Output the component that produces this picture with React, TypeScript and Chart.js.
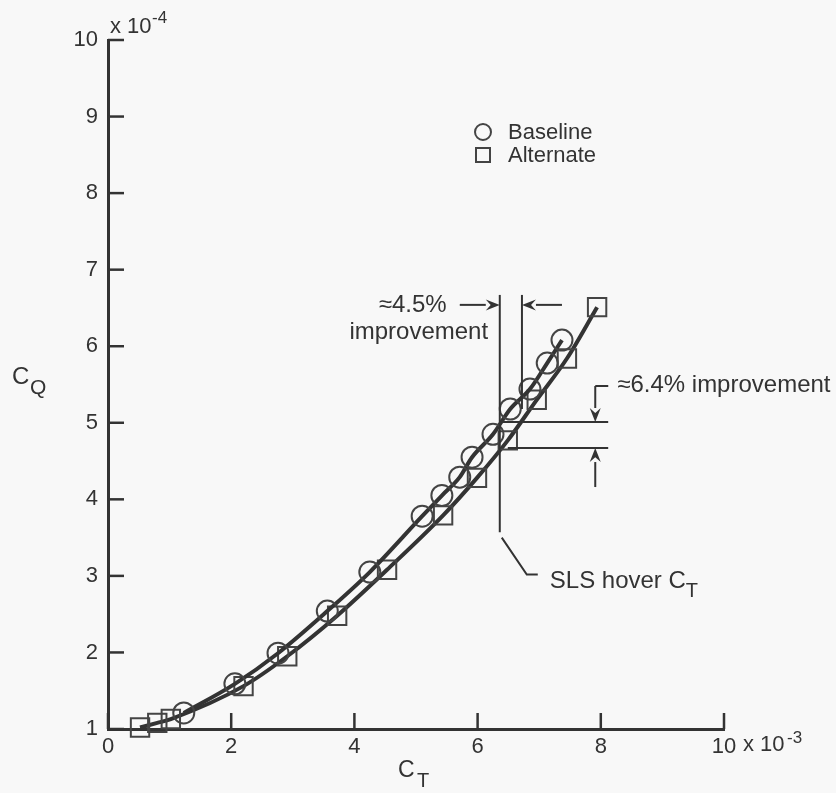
import React, { useEffect, useRef } from 'react';
import { Chart, registerables } from 'chart.js';

Chart.register(...registerables);

// ---- Data (C_T in units of 1e-3, C_Q in units of 1e-4) ----
const baselineCT = [1.23, 2.06, 2.76, 3.56, 4.25, 5.10, 5.42, 5.71, 5.91, 6.25, 6.53, 6.85, 7.13, 7.37];
const baselineCQ = [1.21, 1.59, 1.99, 2.54, 3.05, 3.78, 4.05, 4.29, 4.55, 4.85, 5.18, 5.44, 5.78, 6.08];
const alternateCT = [0.52, 0.80, 1.02, 2.20, 2.91, 3.72, 4.53, 5.44, 5.99, 6.49, 6.96, 7.45, 7.94];
const alternateCQ = [1.02, 1.08, 1.13, 1.56, 1.95, 2.48, 3.08, 3.79, 4.28, 4.77, 5.30, 5.84, 6.51];

// axis ranges / ticks
const xRange = [0, 10];
const xStep = 2;
const yRange = [1, 10];
const yStep = 1;

// annotation values (data units)
const slsHoverCT = 6.36;
const improvedCT = 6.72;
const baselineCQAtHover = 5.01;
const alternateCQAtHover = 4.67;
const annotTopCQ = 6.67;

const FONT = '"Liberation Sans", Arial, Helvetica, sans-serif';
const INK = '#333333';

function line(ctx: CanvasRenderingContext2D, x1: number, y1: number, x2: number, y2: number) {
  ctx.beginPath();
  ctx.moveTo(x1, y1);
  ctx.lineTo(x2, y2);
  ctx.stroke();
}

function arrow(ctx: CanvasRenderingContext2D, x1: number, y1: number, x2: number, y2: number) {
  const ang = Math.atan2(y2 - y1, x2 - x1);
  const L = 14, W = 5.5;
  const bx = x2 - L * Math.cos(ang), by = y2 - L * Math.sin(ang);
  line(ctx, x1, y1, bx, by);
  ctx.beginPath();
  ctx.moveTo(x2, y2);
  ctx.lineTo(bx + W * Math.sin(ang), by - W * Math.cos(ang));
  ctx.lineTo(bx + 0.35 * L * Math.cos(ang), by + 0.35 * L * Math.sin(ang));
  ctx.lineTo(bx - W * Math.sin(ang), by + W * Math.cos(ang));
  ctx.closePath();
  ctx.fill();
}

const decor = {
  id: 'decor',
  beforeDraw(chart: any) {
    const ctx = chart.ctx;
    ctx.save();
    ctx.fillStyle = '#f8f8f8';
    ctx.fillRect(0, 0, chart.width, chart.height);
    ctx.restore();
  },
  afterDraw(chart: any) {
    const ctx: CanvasRenderingContext2D = chart.ctx;
    const xs = chart.scales.x, ys = chart.scales.y;
    const px = (v: number) => xs.getPixelForValue(v);
    const py = (v: number) => ys.getPixelForValue(v);
    const area = chart.chartArea;
    ctx.save();
    ctx.strokeStyle = INK;
    ctx.fillStyle = INK;
    ctx.lineCap = 'butt';

    // inward ticks
    ctx.lineWidth = 2.5;
    xs.ticks.forEach((t: any) => { const X = px(t.value); line(ctx, X, area.bottom, X, area.bottom - 16); });
    ys.ticks.forEach((t: any) => { const Y = py(t.value); line(ctx, area.left, Y, area.left + 16, Y); });

    // exponent labels
    ctx.textBaseline = 'middle';
    ctx.textAlign = 'left';
    ctx.font = `22px ${FONT}`;
    ctx.fillText('x 10', area.left + 2, area.top - 13);
    ctx.font = `17px ${FONT}`;
    ctx.fillText('-4', area.left + 44, area.top - 22);
    ctx.font = `22px ${FONT}`;
    const xb = area.bottom + 16;
    ctx.fillText('x 10', area.right + 19, xb);
    ctx.font = `17px ${FONT}`;
    ctx.fillText('-3', area.right + 63, xb - 7);

    // axis titles
    ctx.font = `24px ${FONT}`;
    ctx.fillText('C', 12, 377);
    ctx.font = `21px ${FONT}`;
    ctx.fillText('Q', 30, 388);
    ctx.font = `23px ${FONT}`;
    ctx.fillText('C', 398, 771);
    ctx.font = `20px ${FONT}`;
    ctx.fillText('T', 417, 781);

    // legend
    const lx = area.left + 375, ly = area.top + 92;
    ctx.lineWidth = 2;
    ctx.strokeStyle = '#444';
    ctx.beginPath();
    ctx.arc(lx, ly, 8, 0, Math.PI * 2);
    ctx.stroke();
    ctx.strokeRect(lx - 7, ly + 16, 14, 14);
    ctx.font = `22px ${FONT}`;
    ctx.fillText('Baseline', lx + 25, ly + 1);
    ctx.fillText('Alternate', lx + 25, ly + 24);

    // annotation lines
    ctx.strokeStyle = INK;
    ctx.lineWidth = 2;
    const x1 = px(slsHoverCT), x2 = px(improvedCT);
    const yTop = py(annotTopCQ);
    line(ctx, x1, yTop, x1, py(3.57));
    line(ctx, x2, yTop, x2, py(5.18));
    const yB = py(baselineCQAtHover), yA = py(alternateCQAtHover);
    const xRight = px(8.12);
    line(ctx, x1, yB, xRight, yB);
    line(ctx, x1 + 8, yA, xRight, yA);

    // horizontal arrows (4.5%)
    const yArr = py(6.54);
    arrow(ctx, x1 - 40, yArr, x1, yArr);
    arrow(ctx, x2 + 40, yArr, x2, yArr);
    ctx.font = `24px ${FONT}`;
    ctx.textAlign = 'center';
    ctx.fillText('\u22484.5%', x1 - 87, yArr);
    ctx.fillText('improvement', x1 - 81, yArr + 27);

    // vertical arrows (6.4%)
    const xv = px(7.91);
    line(ctx, xv, yB - 36, xv + 13, yB - 36);
    arrow(ctx, xv, yB - 36, xv, yB);
    arrow(ctx, xv, yA + 39, xv, yA);
    ctx.textAlign = 'left';
    ctx.fillText('\u22486.4% improvement', xv + 22, yB - 37);

    // SLS hover leader
    const yL = py(3.50);
    ctx.beginPath();
    ctx.moveTo(x1 + 2, yL);
    ctx.lineTo(x1 + 27, yL + 37);
    ctx.lineTo(x1 + 38, yL + 37);
    ctx.stroke();
    ctx.font = `24px ${FONT}`;
    ctx.fillText('SLS hover C', x1 + 50, yL + 44);
    const w = ctx.measureText('SLS hover C').width;
    ctx.font = `20px ${FONT}`;
    ctx.fillText('T', x1 + 50 + w, yL + 54);

    ctx.restore();
  },
};

export default function App() {
  const ref = useRef<HTMLCanvasElement | null>(null);

  useEffect(() => {
    if (!ref.current) return;
    const mk = (xs: number[], ys: number[]) => xs.map((v, i) => ({ x: v, y: ys[i] }));
    const chart = new Chart(ref.current, {
      type: 'scatter',
      data: {
        datasets: [
          {
            label: 'Baseline',
            data: mk(baselineCT, baselineCQ),
            showLine: true,
            cubicInterpolationMode: 'monotone',
            borderColor: INK,
            borderWidth: 4,
            pointStyle: 'circle',
            pointRadius: 10.5,
            pointBorderWidth: 2,
            pointBorderColor: '#444',
            pointBackgroundColor: 'rgba(0,0,0,0)',
            clip: false,
          } as any,
          {
            label: 'Alternate',
            data: mk(alternateCT, alternateCQ),
            showLine: true,
            cubicInterpolationMode: 'monotone',
            borderColor: INK,
            borderWidth: 4,
            pointStyle: 'rect',
            pointRadius: 13,
            pointBorderWidth: 2,
            pointBorderColor: '#444',
            pointBackgroundColor: 'rgba(0,0,0,0)',
            clip: false,
          } as any,
        ],
      },
      options: {
        animation: false,
        responsive: false,
        events: [],
        layout: { padding: { left: 0, right: 112, top: 40, bottom: 0 } },
        plugins: { legend: { display: false }, tooltip: { enabled: false } },
        scales: {
          x: {
            type: 'linear',
            min: xRange[0],
            max: xRange[1],
            grid: { display: false, drawTicks: false },
            border: { display: true, color: INK, width: 3 },
            ticks: { stepSize: xStep, padding: 5, color: INK, font: { family: FONT, size: 22 } },
            afterFit: (s: any) => { s.height = 64; },
          },
          y: {
            type: 'linear',
            min: yRange[0],
            max: yRange[1],
            grid: { display: false, drawTicks: false },
            border: { display: true, color: INK, width: 3 },
            ticks: { stepSize: yStep, padding: 10, color: INK, font: { family: FONT, size: 22 } },
            afterFit: (s: any) => { s.width = 108; },
          },
        },
      } as any,
      plugins: [decor],
    });
    return () => chart.destroy();
  }, []);

  return (
    <div style={{ position: 'absolute', left: 0, top: 0, width: 836, height: 793 }}>
      <canvas ref={ref} width={836} height={793} style={{ display: 'block' }} />
    </div>
  );
}
